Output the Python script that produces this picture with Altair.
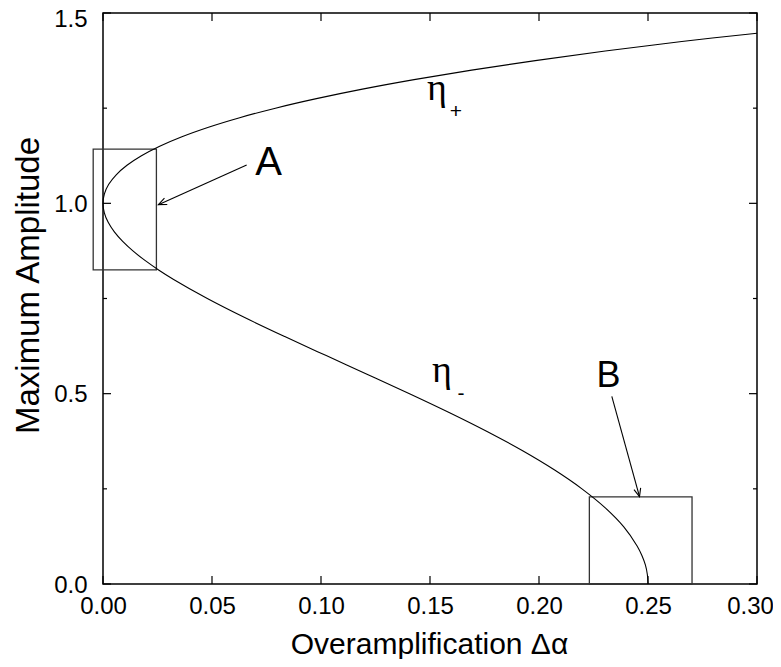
import altair as alt
import pandas as pd

W, H = 654, 571

# curve (eta+ branch from the right end, through (0,1), then eta- branch down to (0.25, 0))
curve_x = [0.300, 0.2655, 0.2304, 0.1983, 0.1691, 0.1427, 0.1190, 0.0979, 0.0791, 0.0627,
           0.0484, 0.0362, 0.0260, 0.01764, 0.0110, 0.00606, 0.00263, 0.00064, 0.0,
           0.00061, 0.00238, 0.00521, 0.00903, 0.01373, 0.01925, 0.0255, 0.0324, 0.04785,
           0.0650, 0.08338, 0.1024, 0.1216, 0.1406, 0.1590, 0.1764, 0.1925, 0.2070,
           0.2197, 0.2304, 0.2389, 0.2450, 0.2472, 0.2488, 0.2497, 0.2500]
curve_y = [1.447, 1.425, 1.40, 1.375, 1.35, 1.325, 1.30, 1.275, 1.25, 1.225,
           1.20, 1.175, 1.15, 1.125, 1.10, 1.075, 1.05, 1.025, 1.0,
           0.975, 0.95, 0.925, 0.90, 0.875, 0.85, 0.825, 0.80, 0.75,
           0.70, 0.65, 0.60, 0.55, 0.50, 0.45, 0.40, 0.35, 0.30,
           0.25, 0.20, 0.15, 0.10, 0.075, 0.05, 0.025, 0.0]

x_ticks = [0.0, 0.05, 0.10, 0.15, 0.20, 0.25, 0.30]
y_major = [0.0, 0.5, 1.0, 1.5]
y_minor = [0.25, 0.75, 1.25]

box_x1 = [-0.0045, 0.2231]
box_x2 = [0.0245, 0.2702]
box_y1 = [0.8253, 0.0]
box_y2 = [1.1426, 0.2289]

arrowA = {"x1": [0.0659], "y1": [1.1006], "x2": [0.0254], "y2": [0.9965]}
arrowB = {"x1": [0.2334], "y1": [0.4930], "x2": [0.2461], "y2": [0.2294]}

letterA = {"x": [0.0760], "y": [1.0752], "t": ["A"]}
letterB = {"x": [0.2319], "y": [0.5174], "t": ["B"]}

eta_x = [0.1532, 0.1555]
eta_y = [1.2718, 0.5297]
eta_sub = ["+", "-"]

FONT = "Liberation Sans"

xscale = alt.Scale(domain=[0, 0.3], nice=False, zero=False)
yscale = alt.Scale(domain=[0, 1.5], nice=False, zero=False)

x_axis = alt.Axis(values=x_ticks, format=".2f", ticks=False, domain=False, grid=False,
                  labelFontSize=24, labelPadding=10, labelFont=FONT, labelColor="black",
                  labelFlush=False, labelOverlap=False,
                  labelOffset={"condition": {"test": "datum.value >= 0.3", "value": -7},
                               "value": 0},
                  title="Overamplification Δα", titleFontSize=30, titleFont=FONT,
                  titleFontWeight="normal", titleColor="black",
                  titleX=326, titleY=69, titleBaseline="alphabetic", titleAlign="center")
y_axis = alt.Axis(values=y_major, format=".1f", ticks=False, domain=False, grid=False,
                  labelFontSize=24, labelPadding=16, labelFont=FONT, labelColor="black",
                  labelFlush=False, labelOverlap=False,
                  labelOffset={"condition": {"test": "datum.value == 1.5", "value": 6},
                               "value": 1},
                  title="Maximum Amplitude", titleFontSize=33, titleFont=FONT,
                  titleFontWeight="normal", titleColor="black", titleAngle=270,
                  titleX=-65, titleY=272, titleBaseline="alphabetic", titleAlign="center")


def X(f):
    return alt.X(f, type="quantitative", scale=xscale, axis=x_axis)


def Y(f):
    return alt.Y(f, type="quantitative", scale=yscale, axis=y_axis)


curve_df = pd.DataFrame({"x": curve_x, "y": curve_y, "o": list(range(len(curve_x)))})
curve = alt.Chart(curve_df).mark_line(color="black", strokeWidth=1.1,
                                      interpolate="catmull-rom").encode(
    x=X("x"), y=Y("y"), order="o:Q")

box_df = pd.DataFrame({"x1": box_x1, "x2": box_x2, "y1": box_y1, "y2": box_y2})
boxes = alt.Chart(box_df).mark_rect(filled=False, stroke="#333333", strokeWidth=1.3).encode(
    x=X("x1"), x2="x2", y=Y("y1"), y2="y2")

layers = [boxes, curve]

head_path = "M -1 -0.42 L 0 0 L -1 0.42"
for arr, ang in [(arrowA, 155.8), (arrowB, 74.6)]:
    adf = pd.DataFrame(arr)
    layers.append(alt.Chart(adf).mark_rule(color="black", strokeWidth=1.1).encode(
        x=X("x1"), y=Y("y1"), x2="x2", y2="y2"))
    layers.append(alt.Chart(adf).mark_point(shape=head_path, filled=False, color="black",
                                            strokeWidth=1.1, size=270, opacity=1).encode(
        x=X("x2"), y=Y("y2"), angle=alt.value(ang)))

for lab, fs in [(letterA, 40), (letterB, 36)]:
    layers.append(alt.Chart(pd.DataFrame(lab)).mark_text(
        font=FONT, fontSize=fs, baseline="alphabetic", align="center", color="black").encode(
        x=X("x"), y=Y("y"), text="t:N"))

eta_df = pd.DataFrame({"x": eta_x, "y": eta_y, "eta": ["η", "η"], "sub": eta_sub})
layers.append(alt.Chart(eta_df).mark_text(
    font="Liberation Serif", fontSize=38, baseline="alphabetic", align="center",
    color="black").encode(x=X("x"), y=Y("y"), text="eta:N"))
layers.append(alt.Chart(eta_df).mark_text(
    font=FONT, fontSize=21, baseline="middle", align="center", dx=19, dy=12,
    color="black").encode(x=X("x"), y=Y("y"), text="sub:N"))

# inward ticks on all four sides
xt = pd.DataFrame({"t": x_ticks})
ymj = pd.DataFrame({"t": y_major})
ymn = pd.DataFrame({"t": y_minor})
layers.append(alt.Chart(xt).mark_rule(color="black", strokeWidth=1.2).encode(
    x=X("t"), y=alt.value(H), y2=alt.value(H - 8)))
layers.append(alt.Chart(xt).mark_rule(color="black", strokeWidth=1.2).encode(
    x=X("t"), y=alt.value(0), y2=alt.value(8)))
layers.append(alt.Chart(ymj).mark_rule(color="black", strokeWidth=1.2).encode(
    y=Y("t"), x=alt.value(0), x2=alt.value(8)))
layers.append(alt.Chart(ymj).mark_rule(color="black", strokeWidth=1.2).encode(
    y=Y("t"), x=alt.value(W), x2=alt.value(W - 8)))
layers.append(alt.Chart(ymn).mark_rule(color="black", strokeWidth=1.2).encode(
    y=Y("t"), x=alt.value(0), x2=alt.value(4)))
layers.append(alt.Chart(ymn).mark_rule(color="black", strokeWidth=1.2).encode(
    y=Y("t"), x=alt.value(W), x2=alt.value(W - 4)))

chart = alt.layer(*layers).properties(
    width=W, height=H,
    autosize=alt.AutoSizeParams(type="none"),
    padding={"left": 95, "top": 5, "right": 16, "bottom": 75},
    background="white",
).configure_view(stroke="black", strokeWidth=1.5)

chart.save("out.html", embed_options={"renderer": "svg", "actions": False})
